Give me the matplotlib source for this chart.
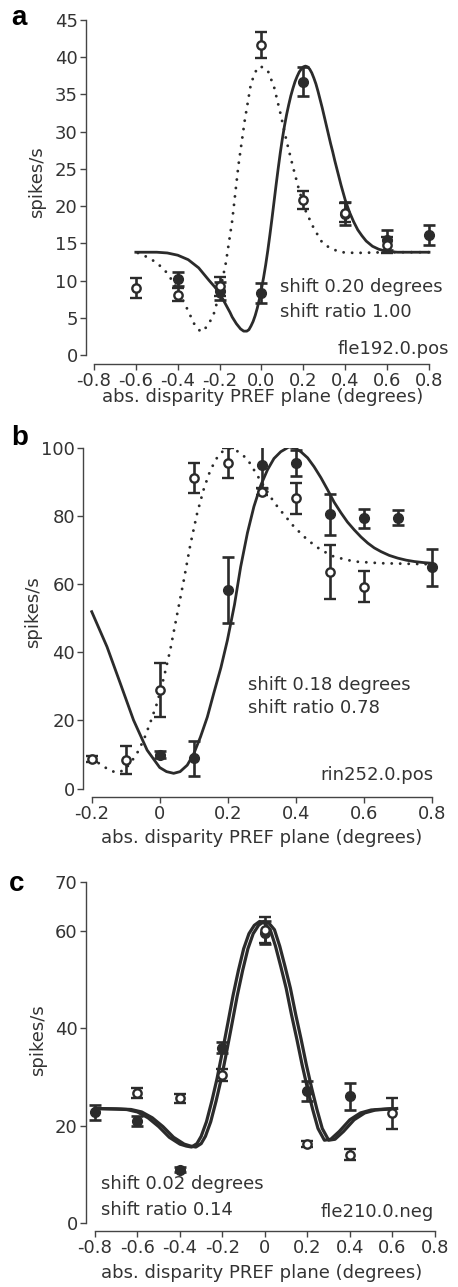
import matplotlib
matplotlib.use('Agg')
import matplotlib.pyplot as plt

plt.rcParams['font.family'] = ['DejaVu Sans']
INK = '#2b2b2b'
TXT = '#333333'
FS = 13
W, H = 458, 1287

# ---- panel a: fle192.0.pos ----
A_X_OPEN = [-0.6, -0.4, -0.2, 0.0, 0.2, 0.4, 0.6]
A_Y_OPEN = [9.0, 8.1, 9.2, 41.6, 20.8, 19.1, 14.8]
A_E_OPEN = [1.35, 0.9, 1.25, 1.75, 1.2, 1.25, 1.05]
A_X_FILL = [-0.4, -0.2, 0.0, 0.2, 0.4, 0.6, 0.8]
A_Y_FILL = [10.2, 8.6, 8.3, 36.7, 19.0, 15.5, 16.1]
A_E_FILL = [0.9, 1.2, 1.35, 1.95, 1.6, 1.35, 1.35]
A_FIT_X = [-0.60, -0.50, -0.45, -0.40, -0.35, -0.30, -0.25, -0.225, -0.20, -0.175,
           -0.15, -0.14, -0.12, -0.10, -0.085, -0.07, -0.06, -0.05, -0.04, -0.03, -0.02,
           -0.01, 0.0, 0.01, 0.02, 0.03, 0.04, 0.05, 0.06, 0.07, 0.08, 0.09, 0.10, 0.11,
           0.12, 0.13, 0.14, 0.15, 0.16, 0.17, 0.18, 0.19, 0.20, 0.21, 0.22, 0.23, 0.24,
           0.25, 0.26, 0.27, 0.28, 0.29, 0.30, 0.31, 0.32, 0.33, 0.34, 0.35, 0.36, 0.37,
           0.38, 0.39, 0.40, 0.41, 0.42, 0.44, 0.46, 0.48, 0.50, 0.53, 0.56, 0.60, 0.65, 0.80]
A_FIT_Y = [13.8, 13.8, 13.7, 13.4, 12.8, 11.7, 10.0, 9.2, 8.3, 7.0,
           5.7, 5.1, 4.2, 3.5, 3.2, 3.2, 3.4, 3.9, 4.5, 5.3, 6.3,
           7.5, 8.9, 10.4, 12.1, 14.0, 16.1, 18.3, 20.6, 22.9, 25.1, 27.2, 29.1, 30.8,
           32.3, 33.6, 34.8, 35.8, 36.7, 37.4, 38.0, 38.4, 38.7, 38.8, 38.7, 38.4, 37.9,
           37.2, 36.4, 35.4, 34.3, 33.2, 32.0, 30.8, 29.6, 28.4, 27.3, 26.1, 25.0, 23.9,
           22.8, 21.8, 20.8, 20.0, 19.2, 17.9, 16.8, 16.0, 15.3, 14.6, 14.2, 13.9, 13.8, 13.8]
A_DOT_X = [-0.59, -0.55, -0.50, -0.45, -0.40, -0.36, -0.32, -0.29, -0.26, -0.23, -0.20,
           -0.17, -0.14, -0.11, -0.08, -0.05, -0.02, 0.0, 0.03, 0.06, 0.09, 0.12, 0.15,
           0.18, 0.21, 0.25, 0.29, 0.33, 0.38, 0.45, 0.60, 0.80]
A_DOT_Y = [13.7, 13.2, 12.4, 11.0, 8.8, 6.5, 4.1, 3.1, 3.8, 5.3, 8.3,
           12.4, 18.0, 25.5, 31.5, 36.5, 38.6, 38.7, 38.2, 36.0, 32.5, 28.7, 25.3,
           22.1, 19.4, 17.0, 15.1, 14.3, 13.8, 13.7, 13.8, 13.8]

# ---- panel b: rin252.0.pos ----
B_X_OPEN = [-0.2, -0.1, 0.0, 0.1, 0.2, 0.3, 0.4, 0.5, 0.6]
B_Y_OPEN = [8.7, 8.4, 28.9, 91.0, 95.4, 87.1, 85.1, 63.6, 59.2]
B_E_OPEN = [1.0, 4.1, 7.9, 4.4, 4.4, 1.0, 4.5, 7.9, 4.5]
B_X_FILL = [0.0, 0.1, 0.2, 0.3, 0.4, 0.5, 0.6, 0.7, 0.8]
B_Y_FILL = [9.9, 8.9, 58.3, 94.9, 95.4, 80.5, 79.3, 79.5, 64.9]
B_E_FILL = [1.0, 5.2, 9.6, 6.6, 3.8, 6.0, 2.8, 2.1, 5.5]
B_FIT_X = [-0.20, -0.155, -0.116, -0.077, -0.037, 0.0, 0.02, 0.041, 0.06, 0.081, 0.10,
           0.12, 0.14, 0.159, 0.18, 0.199, 0.22, 0.238, 0.258, 0.277, 0.297, 0.317, 0.336,
           0.356, 0.38, 0.40, 0.415, 0.435, 0.454, 0.474, 0.494, 0.513, 0.533, 0.552,
           0.572, 0.592, 0.612, 0.631, 0.651, 0.675, 0.70, 0.725, 0.749, 0.775, 0.80]
B_FIT_Y = [51.9, 41.6, 30.9, 20.1, 11.3, 6.2, 5.0, 4.5, 5.0, 6.9, 10.2,
           15.2, 21.0, 28.0, 35.5, 43.5, 54.0, 65.0, 75.0, 82.7, 88.9, 93.5, 96.8,
           98.8, 100.2, 99.8, 98.8, 97.0, 94.4, 91.2, 87.6, 84.0, 80.9, 78.2,
           75.9, 73.8, 72.0, 70.6, 69.5, 68.4, 67.6, 67.0, 66.6, 66.3, 66.1]
B_DOT_X = [-0.20, -0.165, -0.145, -0.126, -0.105, -0.087, -0.067, -0.047, -0.028, -0.008,
           0.012, 0.031, 0.051, 0.071, 0.09, 0.11, 0.13, 0.149, 0.17, 0.189, 0.20, 0.22,
           0.238, 0.258, 0.277, 0.297, 0.317, 0.336, 0.356, 0.395, 0.435, 0.474, 0.513,
           0.572, 0.651, 0.80]
B_DOT_Y = [8.9, 6.5, 5.3, 4.7, 5.4, 7.4, 10.3, 14.3, 19.3, 25.0,
           32.5, 40.7, 51.0, 61.2, 71.5, 80.7, 88.0, 93.4, 97.3, 99.3, 99.8, 99.5,
           98.3, 96.6, 93.5, 90.2, 87.0, 84.0, 81.5, 76.8, 72.9, 70.0, 68.0,
           66.6, 66.1, 65.8]

# ---- panel c: fle210.0.neg ----
C_X_OPEN = [-0.6, -0.4, -0.2, 0.0, 0.2, 0.4, 0.6]
C_Y_OPEN = [26.7, 25.6, 30.4, 60.2, 16.2, 14.0, 22.5]
C_E_OPEN = [1.1, 0.9, 1.3, 2.7, 0.6, 1.1, 3.1]
C_X_FILL = [-0.8, -0.6, -0.4, -0.2, 0.0, 0.2, 0.4]
C_Y_FILL = [22.7, 21.0, 10.9, 36.0, 59.6, 27.1, 26.0]
C_E_FILL = [1.45, 1.0, 0.5, 1.15, 2.3, 2.05, 2.8]
C_FIT_X = [-0.80, -0.70, -0.65, -0.60, -0.55, -0.50, -0.45, -0.40, -0.37, -0.345, -0.32,
           -0.30, -0.275, -0.25, -0.225, -0.20, -0.175, -0.15, -0.125, -0.10, -0.075,
           -0.05, -0.025, 0.0, 0.025, 0.05, 0.075, 0.10, 0.125, 0.15, 0.175, 0.20,
           0.225, 0.25, 0.28, 0.31, 0.35, 0.40, 0.45, 0.50, 0.60]
C_FIT_Y = [23.5, 23.4, 23.3, 22.8, 21.6, 19.8, 17.6, 16.2, 15.8, 15.6, 16.3,
           17.8, 20.8, 25.0, 29.7, 35.2, 40.9, 46.7, 51.8, 56.3, 59.4,
           61.1, 61.9, 61.5, 60.2, 56.8, 52.6, 48.2, 42.8, 37.8, 32.5, 27.7,
           23.3, 19.4, 17.0, 17.2, 18.8, 21.2, 22.6, 23.2, 23.5]

SHIFT_TEXT = {'a': ('shift 0.20 degrees', 'shift ratio 1.00', 'fle192.0.pos'),
              'b': ('shift 0.18 degrees', 'shift ratio 0.78', 'rin252.0.pos'),
              'c': ('shift 0.02 degrees', 'shift ratio 0.14', 'fle210.0.neg')}
C_SHIFT = 0.02
DOTS = (0, (0.01, 2.9))


def frac(px, py):
    return px / W, 1 - py / H


def style(ax, xticks, xlabels, yticks, xlim, ylim, drop):
    ax.set_xlim(xlim)
    ax.set_ylim(ylim)
    ax.patch.set_alpha(0)
    for s in ('top', 'right'):
        ax.spines[s].set_visible(False)
    for s in ('left', 'bottom'):
        ax.spines[s].set_color('#444444')
        ax.spines[s].set_linewidth(1.0)
    ax.spines['bottom'].set_position(('outward', drop))
    ax.spines['bottom'].set_bounds(xticks[0], xticks[-1])
    ax.set_xticks(xticks)
    ax.set_xticklabels(xlabels)
    ax.set_yticks(yticks)
    ax.tick_params(direction='out', length=4, width=1.0, color='#444444',
                   labelsize=FS, labelcolor=TXT, pad=2)


def points(ax, xo, yo, eo, xf, yf, ef):
    ax.errorbar(xf, yf, yerr=ef, fmt='o', ms=7, mfc=INK, mec=INK, color=INK,
                elinewidth=1.9, capsize=4.2, capthick=1.9, zorder=4)
    ax.errorbar(xo, yo, yerr=eo, fmt='o', ms=6, mfc='white', mec=INK, mew=1.7,
                color=INK, elinewidth=1.9, capsize=4.2, capthick=1.9, zorder=5)


def notes(ax, key, x1, y1, y2, x3, y3):
    t1, t2, t3 = SHIFT_TEXT[key]
    ax.text(x1, y1, t1, fontsize=FS, color=TXT, va='center')
    ax.text(x1, y2, t2, fontsize=FS, color=TXT, va='center')
    ax.text(x3, y3, t3, fontsize=FS, color=TXT, va='center', ha='right')


fig = plt.figure(figsize=(W / 100, H / 100), dpi=100)

# panel a
ax = fig.add_axes([0.1878, 0.7242, 0.7672, 0.2603])
ax.plot(A_FIT_X, A_FIT_Y, color=INK, lw=2.0, zorder=3)
ax.plot(A_DOT_X, A_DOT_Y, color=INK, lw=2.1, ls=DOTS, dash_capstyle='round', zorder=3)
points(ax, A_X_OPEN, A_Y_OPEN, A_E_OPEN, A_X_FILL, A_Y_FILL, A_E_FILL)
style(ax, [-0.8, -0.6, -0.4, -0.2, 0.0, 0.2, 0.4, 0.6, 0.8],
      ['-0.8', '-0.6', '-0.4', '-0.2', '0.0', '0.2', '0.4', '0.6', '0.8'],
      range(0, 46, 5), (-0.838, 0.84), (0, 45), 6.5)
notes(ax, 'a', 0.09, 9.1, 5.8, 0.895, 0.8)

# panel b
ax = fig.add_axes([0.1819, 0.3872, 0.7793, 0.2650])
ax.plot(B_FIT_X, B_FIT_Y, color=INK, lw=2.0, zorder=3)
ax.plot(B_DOT_X, B_DOT_Y, color=INK, lw=2.1, ls=DOTS, dash_capstyle='round', zorder=3)
points(ax, B_X_OPEN, B_Y_OPEN, B_E_OPEN, B_X_FILL, B_Y_FILL, B_E_FILL)
style(ax, [-0.2, 0.0, 0.2, 0.4, 0.6, 0.8], ['-0.2', '0', '0.2', '0.4', '0.6', '0.8'],
      range(0, 101, 20), (-0.2247, 0.825), (0, 100), 6)
notes(ax, 'b', 0.26, 30.4, 23.6, 0.805, 4.0)

# panel c: fit and its 0.02 deg shifted copy drawn as a double line
ax = fig.add_axes([0.1878, 0.0497, 0.7812, 0.2650])
ax.plot(C_FIT_X, C_FIT_Y, color=INK, lw=2.3, zorder=3)
ax.plot([x + C_SHIFT for x in C_FIT_X], C_FIT_Y, color=INK, lw=2.3, zorder=3)
points(ax, C_X_OPEN, C_Y_OPEN, C_E_OPEN, C_X_FILL, C_Y_FILL, C_E_FILL)
style(ax, [-0.8, -0.6, -0.4, -0.2, 0.0, 0.2, 0.4, 0.6, 0.8],
      ['-0.8', '-0.6', '-0.4', '-0.2', '0', '0.2', '0.4', '0.6', '0.8'],
      [0, 20, 40, 60, 70], (-0.842, 0.842), (0, 70), 5.5)
notes(ax, 'c', -0.773, 8.0, 2.6, 0.795, 2.3)

# axis labels and panel letters
for px, py in [(263, 397), (262, 838), (262, 1273)]:
    fig.text(*frac(px, py), 'abs. disparity PREF plane (degrees)', fontsize=FS,
             color=TXT, ha='center', va='center')
for px, py in [(37, 182), (33, 612), (38, 1040)]:
    fig.text(*frac(px, py), 'spikes/s', fontsize=FS, color=TXT,
             ha='center', va='center', rotation=90)
for letter, (px, py) in zip('abc', [(19, 18), (20, 438), (17, 884)]):
    fig.text(*frac(px, py), letter, fontsize=20, fontweight='bold',
             family=['Liberation Sans', 'DejaVu Sans'], ha='center', va='center')

fig.savefig('out.png', dpi=100)
